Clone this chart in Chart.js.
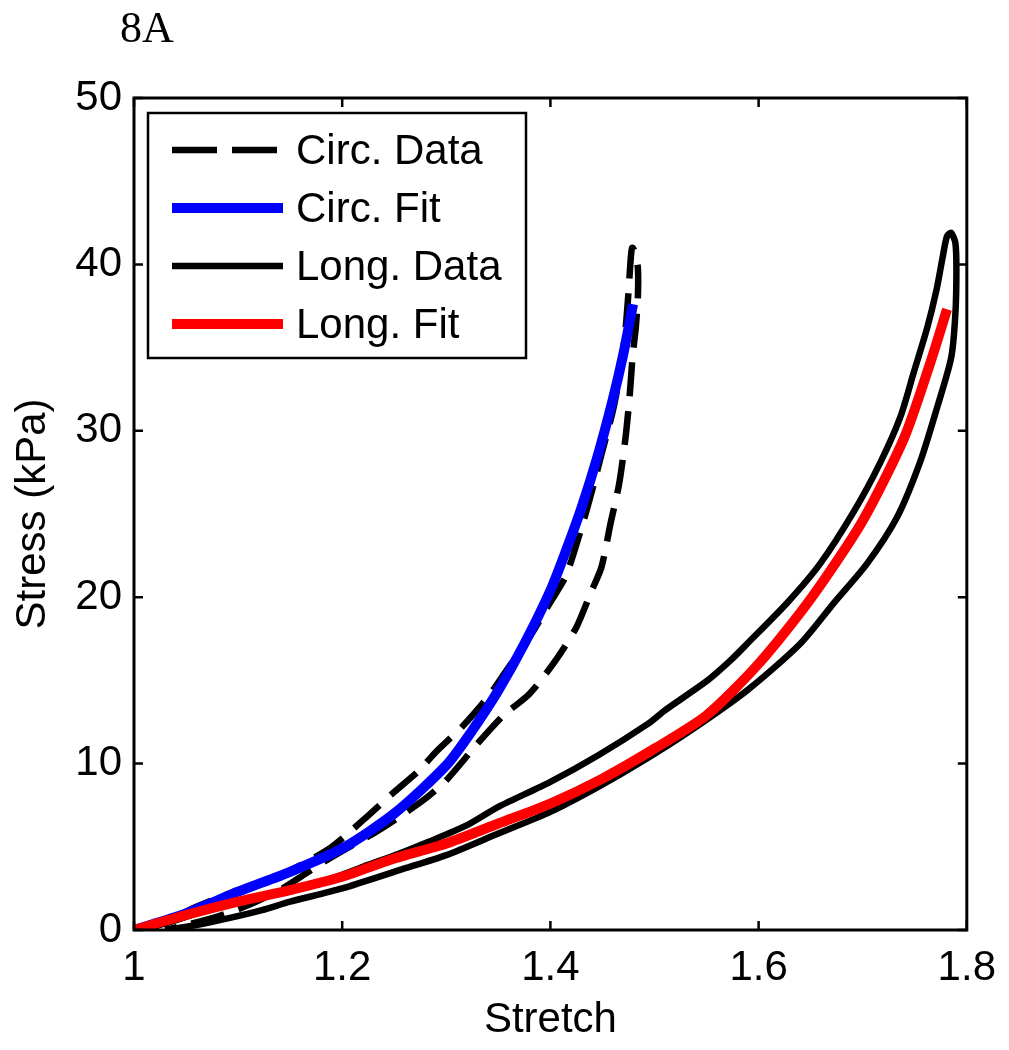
<!DOCTYPE html>
<html>
<head>
<meta charset="utf-8">
<script src="https://cdn.jsdelivr.net/npm/chart.js@4.4.0/dist/chart.umd.min.js"></script>
<style>
    html, body { margin: 0; padding: 0; background: #fff; }
</style>
</head>
<body>
<canvas id="chart" width="1009" height="1050"></canvas>
<script>
// Circ. data: loading branch, turn at the top, unloading branch
var circDataX = [1.000, 1.02, 1.04, 1.06, 1.08, 1.10, 1.13, 1.16, 1.19, 1.22, 1.25, 1.274, 1.29, 1.315, 1.34, 1.36, 1.38, 1.40, 1.415, 1.43, 1.44, 1.45, 1.46, 1.467, 1.472, 1.475, 1.477, 1.4785,
    1.481, 1.484, 1.484, 1.482,
    1.479, 1.476, 1.472, 1.466, 1.458, 1.449, 1.439, 1.425, 1.405, 1.38, 1.355, 1.33, 1.30, 1.28, 1.255, 1.23, 1.207, 1.185, 1.165, 1.14, 1.11, 1.08, 1.05, 1.03];
var circDataY = [0, 0.2, 0.8, 1.4, 1.9, 2.4, 3.0, 3.9, 5.0, 6.6, 8.3, 9.6, 10.7, 12.2, 14.0, 15.8, 17.6, 19.7, 21.3, 24.2, 26.4, 28.8, 31.2, 33.5, 36.0, 38.3, 40.2, 41.0,
    40.8, 39.8, 38.0, 36.2,
    34.5, 32.0, 29.5, 26.8, 24.5, 21.8, 20.3, 18.2, 16.2, 14.2, 12.9, 11.2, 9.0, 7.9, 6.8, 5.8, 5.0, 4.2, 3.4, 2.4, 1.5, 0.8, 0.3, 0];

var circFitX = [1.0, 1.05, 1.1, 1.15, 1.2, 1.25, 1.3, 1.325, 1.35, 1.375, 1.4, 1.415, 1.43, 1.445, 1.46, 1.47, 1.4794];
var circFitY = [0, 1.0, 2.3, 3.5, 4.9, 7.0, 9.9, 12.0, 14.4, 17.2, 20.4, 22.8, 25.4, 28.4, 31.9, 34.6, 37.6];

// Long. data: loading branch, turn at the top, unloading branch
var longDataX = [1.0, 1.03, 1.06, 1.10, 1.15, 1.19, 1.22, 1.255, 1.283, 1.32, 1.35, 1.40, 1.446, 1.494, 1.51, 1.551, 1.573, 1.589, 1.628, 1.659, 1.692, 1.717, 1.736, 1.749, 1.762, 1.771, 1.777, 1.781,
    1.785, 1.789, 1.790, 1.789, 1.785,
    1.771, 1.755, 1.733, 1.704, 1.673, 1.640, 1.589, 1.535, 1.49, 1.446, 1.40, 1.35, 1.30, 1.255, 1.20, 1.15, 1.123, 1.09, 1.06, 1.03];
var longDataY = [0, 0.4, 1.0, 1.7, 2.4, 3.1, 3.8, 4.6, 5.3, 6.3, 7.4, 8.9, 10.5, 12.4, 13.2, 15.0, 16.2, 17.2, 19.7, 22.0, 25.2, 28.1, 30.8, 33.5, 36.2, 38.5, 40.5, 41.7,
    41.9, 41.3, 39.7, 37.0, 34.4,
    31.3, 28.1, 24.8, 22.0, 19.7, 17.2, 14.4, 12.0, 10.2, 8.6, 7.1, 5.8, 4.5, 3.6, 2.5, 1.7, 1.2, 0.7, 0.3, 0];

var longFitX = [1.0, 1.05, 1.1, 1.15, 1.2, 1.25, 1.3, 1.35, 1.4, 1.45, 1.5, 1.55, 1.6, 1.65, 1.7, 1.74, 1.765, 1.781];
var longFitY = [0, 0.9, 1.7, 2.4, 3.2, 4.3, 5.2, 6.4, 7.6, 9.1, 10.9, 12.9, 16.0, 19.9, 24.6, 29.6, 34.1, 37.3];

var xTicks = [1, 1.2, 1.4, 1.6, 1.8];
var yTicks = [0, 10, 20, 30, 40, 50];
var seriesNames = ['Circ. Data', 'Circ. Fit', 'Long. Data', 'Long. Fit'];

function toPoints(xs, ys) {
    return xs.map(function (x, i) { return { x: x, y: ys[i] }; });
}

var fontFamily = '"Liberation Sans", Arial, Helvetica, sans-serif';

// box with inward ticks on all four sides, as in the original figure
var frameTicks = {
    id: 'frameTicks',
    afterDatasetsDraw: function (chart) {
        var ctx = chart.ctx, a = chart.chartArea;
        var xs = chart.scales.x, ys = chart.scales.y;
        ctx.save();
        ctx.strokeStyle = '#000';
        ctx.lineWidth = 2.5;
        ctx.beginPath();
        xTicks.forEach(function (v) {
            var px = xs.getPixelForValue(v);
            ctx.moveTo(px, a.bottom); ctx.lineTo(px, a.bottom - 9);
            ctx.moveTo(px, a.top); ctx.lineTo(px, a.top + 9);
        });
        yTicks.forEach(function (v) {
            var py = ys.getPixelForValue(v);
            ctx.moveTo(a.left, py); ctx.lineTo(a.left + 9, py);
            ctx.moveTo(a.right, py); ctx.lineTo(a.right - 9, py);
        });
        ctx.stroke();
        ctx.lineWidth = 3;
        ctx.strokeRect(a.left, a.top, a.right - a.left, a.bottom - a.top);
        ctx.restore();
    }
};

// legend box inside the plot (upper left)
var innerLegend = {
    id: 'innerLegend',
    afterDraw: function (chart) {
        var ctx = chart.ctx, a = chart.chartArea;
        var bx = a.left + 14, by = a.top + 15, bw = 378, bh = 245;
        ctx.save();
        ctx.fillStyle = '#fff';
        ctx.fillRect(bx, by, bw, bh);
        ctx.strokeStyle = '#000';
        ctx.lineWidth = 2.5;
        ctx.strokeRect(bx, by, bw, bh);
        chart.data.datasets.forEach(function (ds, i) {
            var y = by + 37 + i * 58;
            ctx.beginPath();
            ctx.strokeStyle = ds.borderColor;
            ctx.lineWidth = ds.borderWidth;
            ctx.setLineDash(ds.borderDash ? [45, 15] : []);
            ctx.moveTo(bx + 24, y);
            ctx.lineTo(bx + 135, y);
            ctx.stroke();
            ctx.setLineDash([]);
            ctx.fillStyle = '#000';
            ctx.font = '42px ' + fontFamily;
            ctx.textBaseline = 'middle';
            ctx.textAlign = 'left';
            ctx.fillText(ds.label, bx + 148, y + 2);
        });
        // panel label
        ctx.fillStyle = '#000';
        ctx.font = '44px "Liberation Serif", "Times New Roman", serif';
        ctx.textBaseline = 'alphabetic';
        ctx.fillText('8A', 120, 42);
        ctx.restore();
    }
};

var data = {
    datasets: [
        {
            label: seriesNames[0],
            data: toPoints(circDataX, circDataY),
            borderColor: '#000000',
            borderWidth: 6.5,
            borderDash: [34, 15],
            order: 4
        },
        {
            label: seriesNames[1],
            data: toPoints(circFitX, circFitY),
            borderColor: '#0000ff',
            borderWidth: 10,
            order: 3
        },
        {
            label: seriesNames[2],
            data: toPoints(longDataX, longDataY),
            borderColor: '#000000',
            borderWidth: 6.5,
            order: 2
        },
        {
            label: seriesNames[3],
            data: toPoints(longFitX, longFitY),
            borderColor: '#ff0000',
            borderWidth: 10,
            order: 1
        }
    ]
};

var config = {
    type: 'scatter',
    data: data,
    options: {
        responsive: false,
        animation: false,
        devicePixelRatio: 1,
        layout: { padding: { top: 98, right: 39, left: 0, bottom: 0 } },
        elements: {
            point: { radius: 0 },
            line: { tension: 0.25, fill: false, borderCapStyle: 'butt' }
        },
        datasets: { scatter: { showLine: true } },
        plugins: {
            legend: { display: false },
            tooltip: { enabled: false }
        },
        scales: {
            x: {
                type: 'linear',
                min: 1,
                max: 1.8,
                afterFit: function (scale) { scale.height = 120; },
                afterBuildTicks: function (scale) {
                    scale.ticks = xTicks.map(function (v) { return { value: v }; });
                },
                grid: { display: false, drawTicks: false },
                border: { display: false },
                ticks: {
                    padding: 13,
                    color: '#000',
                    font: { family: fontFamily, size: 42 },
                    callback: function (value) { return String(Number(value.toFixed(1))); }
                },
                title: {
                    display: true,
                    text: 'Stretch',
                    color: '#000',
                    font: { family: fontFamily, size: 42 },
                    padding: { top: 0, bottom: 4 }
                }
            },
            y: {
                type: 'linear',
                min: 0,
                max: 50,
                afterFit: function (scale) { scale.width = 134; },
                afterBuildTicks: function (scale) {
                    scale.ticks = yTicks.map(function (v) { return { value: v }; });
                },
                grid: { display: false, drawTicks: false },
                border: { display: false },
                ticks: {
                    padding: 12,
                    color: '#000',
                    font: { family: fontFamily, size: 42 }
                },
                title: {
                    display: true,
                    text: 'Stress (kPa)',
                    color: '#000',
                    font: { family: fontFamily, size: 42 },
                    padding: { top: 8, bottom: 0 }
                }
            }
        }
    },
    plugins: [frameTicks, innerLegend]
};

var myChart = new Chart(document.getElementById('chart'), config);
</script>
</body>
</html>
